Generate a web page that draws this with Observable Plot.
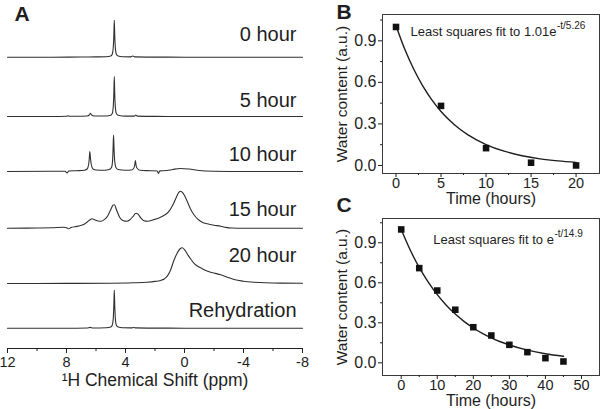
<!DOCTYPE html>
<html>
<head>
<meta charset="utf-8">
<script src="https://cdn.jsdelivr.net/npm/d3@7"></script>
<script src="https://cdn.jsdelivr.net/npm/@observablehq/plot@0.6"></script>
<style>
  html, body { margin: 0; padding: 0; background: #fff; }
  #fig { position: relative; width: 600px; height: 409px; overflow: hidden; background: #fff; }
  #fig svg { position: absolute; overflow: visible; }
</style>
</head>
<body>
<div id="fig"></div>
<script>
// ---------------- Panel A data: 1H NMR spectra (ppm, intensity) ----------------
const sampleNames = ["0 hour", "5 hour", "10 hour", "15 hour", "20 hour", "Rehydration"];
const ppmTicks = [12, 8, 4, 0, -4, -8];
const ppmMinorTicks = [10, 6, 2, -2, -6];

const spec0h = [[12,0],[9,0],[7,0.2],[6,0.3],[5.3,0.4],[5.0,1.2],[4.9,3],[4.84,8],[4.79,22],[4.76,37],[4.73,22],[4.68,8],[4.62,3],[4.5,1.2],[4.2,0.4],[3.7,0.3],[3.5,1.2],[3.35,0.3],[2,0.1],[0,0],[-8,0]];
const spec5h = [[12,0],[9,0],[8.0,0.2],[7.9,0.8],[7.8,0.2],[7,0.3],[6.6,0.5],[6.45,1.5],[6.38,3.3],[6.3,1.5],[6.1,0.5],[5.3,0.5],[5.0,1.3],[4.9,3],[4.84,8],[4.79,23],[4.76,40],[4.73,23],[4.68,8],[4.62,3],[4.5,1.3],[4.0,0.4],[3.4,0.4],[3.3,1.5],[3.2,0.4],[2,0.1],[0,0],[-8,0]];
const spec10h = [[12,0],[9,0.2],[8.1,0.3],[7.96,-1.5],[7.85,0.5],[7.3,0.8],[6.8,1.2],[6.6,2.5],[6.5,7],[6.45,14],[6.42,20],[6.38,14],[6.32,7],[6.2,2.5],[6.0,1.5],[5.4,1.2],[5.1,2],[4.95,4],[4.88,10],[4.84,24],[4.81,36.5],[4.78,24],[4.73,10],[4.65,4],[4.5,2],[4.0,1.2],[3.6,1.5],[3.45,3],[3.38,6],[3.33,11],[3.28,6],[3.2,3],[3.0,1.2],[2.3,0.8],[1.85,0.5],[1.76,-2],[1.68,0.6],[1.2,1],[0.8,2],[0.3,3],[-0.3,2.5],[-1,1],[-2,0.3],[-4,0],[-8,0]];
const spec15h = [[12,0],[10,0.2],[9,0.4],[8.2,1],[7.95,0.2],[7.86,-0.6],[7.7,0.6],[7.3,1.8],[7.06,2.7],[6.8,4],[6.57,6.5],[6.4,8.5],[6.27,9.4],[6.1,8.5],[5.85,7.2],[5.65,7],[5.4,9],[5.2,12.5],[5.0,18.5],[4.85,23],[4.75,23.4],[4.6,18],[4.4,11],[4.15,7.5],[3.9,7],[3.7,8.5],[3.5,11.5],[3.3,15],[3.15,14],[2.95,10],[2.75,7.5],[2.5,7],[2.1,8.5],[1.7,10.5],[1.4,12.7],[1.1,16],[0.8,23],[0.55,31],[0.35,36.5],[0.25,37],[0.1,35],[-0.15,28],[-0.4,19.5],[-0.64,13.4],[-0.9,9],[-1.2,6],[-1.55,4.4],[-2.0,3],[-2.45,2],[-2.8,0.8],[-3.2,0.2],[-4,0],[-8,0]];
const spec20h = [[12,-0.3],[8,-0.2],[5,0],[3.5,0.4],[2.53,1],[2.0,1.8],[1.63,2.7],[1.35,4.5],[1.17,7],[0.95,13],[0.72,22.7],[0.5,30],[0.3,34.5],[0.15,35.4],[0.0,33.5],[-0.2,29],[-0.41,24.4],[-0.7,19],[-1.09,15.4],[-1.4,13],[-1.77,11],[-2.1,9.8],[-2.45,8.4],[-2.9,6],[-3.36,3.7],[-4,2],[-4.7,1],[-5.5,0.4],[-6.5,0.1],[-8,0]];
const specRehyd = [[12,0],[8,0],[6.6,0.2],[6.4,0.8],[6.2,0.2],[5.3,0.4],[5.0,1.2],[4.9,3],[4.84,8],[4.79,23],[4.76,38],[4.73,23],[4.68,8],[4.62,3],[4.5,1.2],[4.2,0.4],[3.6,0.3],[3.45,0.7],[3.3,0.3],[2,0.1],[0,0],[-8,0]];
const spectra = [spec0h, spec5h, spec10h, spec15h, spec20h, specRehyd];

// ---------------- Panel B data ----------------
const hoursB = [0, 5, 10, 15, 20];
const waterB = [1.0, 0.43, 0.125, 0.02, 0.0];
const fitHoursB = [0, 1, 2, 3, 4, 5, 6, 7, 8, 10, 12, 14, 16, 18, 20];
const fitWaterB = [1.01, 0.835, 0.691, 0.571, 0.472, 0.390, 0.323, 0.267, 0.221, 0.151, 0.103, 0.0705, 0.048, 0.033, 0.0225];
const timeTicksB = [0, 5, 10, 15, 20];
const timeMinorB = [2.5, 7.5, 12.5, 17.5];
const fitLabelB = "Least squares fit to 1.01e";
const fitExpB = "-t/5.26";

// ---------------- Panel C data ----------------
const hoursC = [0, 5, 10, 15, 20, 25, 30, 35, 40, 45];
const waterC = [1.0, 0.71, 0.542, 0.398, 0.267, 0.205, 0.135, 0.08, 0.035, 0.01];
const fitHoursC = [0, 2.5, 5, 7.5, 10, 12.5, 15, 17.5, 20, 22.5, 25, 27.5, 30, 35, 40, 45];
const fitWaterC = [1.0, 0.8455, 0.7149, 0.6045, 0.5111, 0.4322, 0.3654, 0.309, 0.2612, 0.2209, 0.1868, 0.1579, 0.1335, 0.0954, 0.0682, 0.0488];
const timeTicksC = [0, 10, 20, 30, 40, 50];
const timeMinorC = [5, 15, 25, 35, 45];
const fitLabelC = "Least squares fit to e";
const fitExpC = "-t/14.9";

const waterTicks = [0, 0.3, 0.6, 0.9];
const waterMinor = [0.15, 0.45, 0.75, 1.05];

// ---------------- layout constants (not data) ----------------
const stackOffset = [291.3, 232, 177, 120.3, 65.3, 20.3];
const labelLift = [16, 10, 10.5, 12, 21, 11];
const fontFamily = "'Liberation Sans', Arial, Helvetica, sans-serif";
const ink = "#1e1e1e";
const lineInk = "#303030";

function textWidth(str, size) {
  const ctx = document.createElement("canvas").getContext("2d");
  ctx.font = `${size}px ${fontFamily}`;
  return ctx.measureText(str).width;
}

const fig = document.getElementById("fig");

// ---------------- Panel A ----------------
const specRows = spectra.flatMap((s, i) => s.map(([ppm, v]) => ({sample: sampleNames[i], ppm, y: stackOffset[i] + v})));
const plotA = Plot.plot({
  width: 310, height: 409,
  marginLeft: 7, marginRight: 8, marginTop: 0, marginBottom: 61,
  style: {background: "transparent", fontFamily, fontSize: "15px", color: ink},
  x: {domain: [12, -8]},
  y: {domain: [0, 348], axis: null},
  marks: [
    Plot.line(specRows, {x: "ppm", y: "y", z: "sample", stroke: lineInk, strokeWidth: 1.1, curve: "monotone-x"}),
    Plot.text(sampleNames, {text: d => d, frameAnchor: "right", y: (d, i) => stackOffset[i] + labelLift[i], textAnchor: "end", lineAnchor: "bottom", dx: -6, fontSize: 20, fill: ink}),
    Plot.ruleY([0], {stroke: ink, strokeWidth: 1}),
    Plot.axisX({ticks: ppmTicks, tickSize: 5, tickPadding: 3.5, fontSize: 14.5, tickFormat: d => String(d), label: null}),
    Plot.axisX({ticks: ppmMinorTicks, tickSize: 3, tickFormat: () => "", label: null}),
    Plot.text(["\u00b9H Chemical Shift (ppm)"], {text: d => d, frameAnchor: "bottom", lineAnchor: "top", dy: 25.5, fontSize: 17.5, fill: ink}),
    Plot.text(["A"], {text: d => d, frameAnchor: "top-left", textAnchor: "start", lineAnchor: "top", dx: 7, dy: 6, fontSize: 21, fontWeight: "bold", fill: ink})
  ]
});
plotA.style.left = "0px"; plotA.style.top = "0px";
fig.appendChild(plotA);

// ---------------- Panels B and C ----------------
function decayPanel({hours, water, fitHours, fitWater, xDomain, yDomain, ticks, minor, top, height, mTop, mBottom, label, exp, annDx, annDy, expDy, letter, letterDy}) {
  const pts = hours.map((t, i) => ({t, w: water[i]}));
  const fit = fitHours.map((t, i) => ({t, w: fitWater[i]}));
  const p = Plot.plot({
    width: 300, height,
    marginLeft: 82, marginRight: 1, marginTop: mTop, marginBottom: mBottom,
    style: {background: "transparent", fontFamily, fontSize: "16px", color: ink, overflow: "visible"},
    x: {domain: xDomain},
    y: {domain: yDomain},
    marks: [
      Plot.frame({stroke: "#3a3a3a", strokeWidth: 1}),
      Plot.axisX({ticks, tickSize: 4, tickPadding: 0.5, fontSize: 14.5, label: null}),
      Plot.axisX({ticks: minor, tickSize: 2, tickFormat: () => "", label: null}),
      Plot.axisY({ticks: waterTicks, tickSize: 4, tickPadding: 2, tickFormat: ".1f", fontSize: 16, label: null}),
      Plot.axisY({ticks: waterMinor.filter(v => v < yDomain[1]), tickSize: 2, tickFormat: () => "", label: null}),
      Plot.line(fit, {x: "t", y: "w", stroke: ink, strokeWidth: 1.4, curve: "monotone-x"}),
      Plot.dot(pts, {x: "t", y: "w", symbol: "square", r: 3.7, fill: "#111", stroke: null}),
      Plot.text([label], {text: d => d, frameAnchor: "top-left", textAnchor: "start", lineAnchor: "bottom", dx: annDx, dy: annDy, fontSize: 13, fill: ink}),
      Plot.text([exp], {text: d => d, frameAnchor: "top-left", textAnchor: "start", lineAnchor: "bottom", dx: annDx + textWidth(label, 13) + 0.5, dy: expDy, fontSize: 10, fill: ink}),
      Plot.text(["Time (hours)"], {text: d => d, frameAnchor: "bottom", lineAnchor: "top", dy: 19, fontSize: 16, fill: ink}),
      Plot.text(["Water content (a.u.)"], {text: d => d, frameAnchor: "left", textAnchor: "middle", rotate: -90, lineAnchor: "top", dx: -47, fontSize: 15.5, fill: ink}),
      Plot.text([letter], {text: d => d, frameAnchor: "top-left", textAnchor: "start", lineAnchor: "top", dx: -46, dy: letterDy, fontSize: 21, fontWeight: "bold", fill: ink})
    ]
  });
  p.style.left = "300px"; p.style.top = top + "px";
  fig.appendChild(p);
}

decayPanel({
  hours: hoursB, water: waterB, fitHours: fitHoursB, fitWater: fitWaterB,
  xDomain: [-1.5, 22.6], yDomain: [-0.058, 1.09], ticks: timeTicksB, minor: timeMinorB,
  top: 0, height: 210, mTop: 14, mBottom: 37,
  label: fitLabelB, exp: fitExpB, annDx: 28, annDy: 21, expDy: 14, letter: "B", letterDy: -10.7
});

decayPanel({
  hours: hoursC, water: waterC, fitHours: fitHoursC, fitWater: fitWaterC,
  xDomain: [-5.19, 55.0], yDomain: [-0.095, 1.082], ticks: timeTicksC, minor: timeMinorC,
  top: 190, height: 219, mTop: 28, mBottom: 34,
  label: fitLabelC, exp: fitExpC, annDx: 50.7, annDy: 25.3, expDy: 18, letter: "C", letterDy: -21.3
});
</script>
</body>
</html>
